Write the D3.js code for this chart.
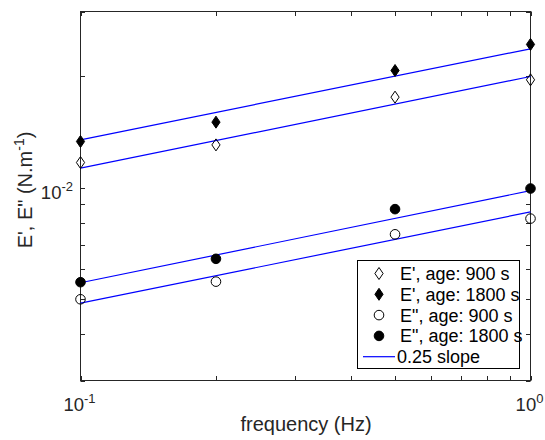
<!DOCTYPE html>
<html>
<head>
<meta charset="utf-8">
<script src="https://cdn.jsdelivr.net/npm/d3@7"></script>
<style>
  body { margin: 0; background: white; }
  text { font-family: 'Liberation Sans', Arial, sans-serif; fill: #262626; }
</style>
</head>
<body>
<div id="chart"></div>
<script>
'use strict';

// Measured frequencies (Hz)
var freqs = [ 0.1, 0.2, 0.5, 1 ];

// Storage modulus E' and loss modulus E'' (N/m), two ageing times
var storage900 = [ 0.01169, 0.01305, 0.01758, 0.01959 ];
var storage1800 = [ 0.01333, 0.01504, 0.02076, 0.02443 ];
var loss900 = [ 0.00498, 0.00556, 0.00747, 0.00824 ];
var loss1800 = [ 0.00554, 0.00641, 0.00874, 0.00994 ];

// 0.25 slope guide lines, value at 0.1 Hz and at 1 Hz
var fitFreqs = [ 0.1, 1 ];
var fitStorage900 = [ 0.01129, 0.0200 ];
var fitStorage1800 = [ 0.01347, 0.02377 ];
var fitLoss900 = [ 0.00486, 0.00859 ];
var fitLoss1800 = [ 0.00552, 0.00981 ];

// Axis ranges and tick values
var xDomain = [ 0.1, 1 ];
var yDomain = [ 0.003, 0.03 ];
var xTicks = [ 0.1, 0.2, 0.3, 0.4, 0.5, 0.6, 0.7, 0.8, 0.9, 1 ];
var yTicks = [ 0.003, 0.004, 0.005, 0.006, 0.007, 0.008, 0.009, 0.01, 0.02, 0.03 ];
var xTickLabels = [ { v: 0.1, exp: '-1' }, { v: 1, exp: '0' } ];
var yTickLabels = [ { v: 0.01, exp: '-2' } ];

var legendLabels = [ 'E\', age: 900 s', 'E\', age: 1800 s', 'E", age: 900 s', 'E", age: 1800 s', '0.25 slope' ];

var width = 545;
var height = 440;
var plot = { left: 80.5, right: 530.5, top: 11.5, bottom: 380.5 };
var axisColor = '#262626';
var tickLen = 4.5;

var svg = d3.select( '#chart' ).append( 'svg' )
  .attr( 'width', width )
  .attr( 'height', height );

var x = d3.scaleLog().domain( xDomain ).range( [ plot.left, plot.right ] );
var y = d3.scaleLog().domain( yDomain ).range( [ plot.bottom, plot.top ] );

// Marker shapes (MATLAB-ish diamond is wider than d3's)
function diamondPath( w, h ) {
  return 'M0,' + ( -h ) + 'L' + w + ',0L0,' + h + 'L' + ( -w ) + ',0Z';
}
var shapes = {
  diamond: diamondPath( 4.1, 6.0 ),
  circle: d3.symbol().type( d3.symbolCircle ).size( Math.PI * 4.8 * 4.8 )()
};

var series = [
  { values: storage900, shape: 'diamond', fill: 'none' },
  { values: storage1800, shape: 'diamond', fill: '#000' },
  { values: loss900, shape: 'circle', fill: 'none' },
  { values: loss1800, shape: 'circle', fill: '#000' }
];
var fits = [ fitStorage900, fitStorage1800, fitLoss900, fitLoss1800 ];

// Plot background and box
svg.append( 'rect' )
  .attr( 'x', plot.left ).attr( 'y', plot.top )
  .attr( 'width', plot.right - plot.left ).attr( 'height', plot.bottom - plot.top )
  .attr( 'fill', 'white' )
  .attr( 'stroke', axisColor )
  .attr( 'stroke-width', 1 );

// Inward ticks on all four sides
var ticks = svg.append( 'g' ).attr( 'class', 'ticks' )
  .attr( 'stroke', axisColor ).attr( 'stroke-width', 1 );

ticks.selectAll( '.xt' )
  .data( xTicks )
  .enter().append( 'path' )
  .attr( 'class', 'xt' )
  .attr( 'd', function( d ) {
    var px = Math.round( x( d ) ) + 0.5;
    return 'M' + px + ',' + plot.bottom + 'v' + ( -tickLen ) +
      'M' + px + ',' + plot.top + 'v' + tickLen;
  } );

ticks.selectAll( '.yt' )
  .data( yTicks )
  .enter().append( 'path' )
  .attr( 'class', 'yt' )
  .attr( 'd', function( d ) {
    var py = Math.round( y( d ) ) + 0.5;
    return 'M' + plot.left + ',' + py + 'h' + tickLen +
      'M' + plot.right + ',' + py + 'h' + ( -tickLen );
  } );

// Tick labels, power-of-ten form
function powerLabel( sel ) {
  sel.text( '10' )
    .append( 'tspan' )
    .attr( 'dy', -8 )
    .style( 'font-size', '13px' )
    .text( function( d ) { return d.exp; } );
}

svg.selectAll( '.xlabel' )
  .data( xTickLabels )
  .enter().append( 'text' )
  .attr( 'class', 'xlabel' )
  .attr( 'x', function( d ) { return x( d.v ) - 1; } )
  .attr( 'y', 411 )
  .attr( 'text-anchor', 'middle' )
  .style( 'font-size', '18.5px' )
  .call( powerLabel );

svg.selectAll( '.ylabel' )
  .data( yTickLabels )
  .enter().append( 'text' )
  .attr( 'class', 'ylabel' )
  .attr( 'x', 73 )
  .attr( 'y', function( d ) { return y( d.v ) + 11; } )
  .attr( 'text-anchor', 'end' )
  .style( 'font-size', '18.5px' )
  .call( powerLabel );

// Axis titles
svg.append( 'text' )
  .attr( 'x', 306 )
  .attr( 'y', 431 )
  .attr( 'text-anchor', 'middle' )
  .style( 'font-size', '20px' )
  .text( 'frequency (Hz)' );

var yTitle = svg.append( 'text' )
  .attr( 'transform', 'translate(32,190) rotate(-90)' )
  .attr( 'text-anchor', 'middle' )
  .style( 'font-size', '20px' );
yTitle.append( 'tspan' ).text( 'E\', E" (N.m' );
yTitle.append( 'tspan' ).attr( 'dy', -8 ).style( 'font-size', '14px' ).text( '-1' );
yTitle.append( 'tspan' ).attr( 'dy', 8 ).text( ')' );

// 0.25 slope guide lines
var line = d3.line()
  .x( function( d, i ) { return x( fitFreqs[ i ] ); } )
  .y( function( d ) { return y( d ); } );

svg.append( 'g' ).attr( 'class', 'fits' )
  .selectAll( 'path' )
  .data( fits )
  .enter().append( 'path' )
  .attr( 'd', line )
  .attr( 'fill', 'none' )
  .attr( 'stroke', '#0000ff' )
  .attr( 'stroke-width', 1.2 );

// Data markers
var groups = svg.append( 'g' ).attr( 'class', 'markers' )
  .selectAll( 'g' )
  .data( series )
  .enter().append( 'g' );

groups.selectAll( 'path' )
  .data( function( s ) {
    return s.values.map( function( v, i ) {
      return { f: freqs[ i ], v: v, shape: s.shape, fill: s.fill };
    } );
  } )
  .enter().append( 'path' )
  .attr( 'transform', function( d ) {
    return 'translate(' + x( d.f ) + ',' + y( d.v ) + ')';
  } )
  .attr( 'd', function( d ) { return shapes[ d.shape ]; } )
  .attr( 'fill', function( d ) { return d.fill; } )
  .attr( 'stroke', '#000' )
  .attr( 'stroke-width', 1 );

// Legend
var legend = svg.append( 'g' ).attr( 'class', 'legend' );
var rowY = function( i ) { return 273.5 + i * 20.8; };

legend.append( 'rect' )
  .attr( 'x', 357.5 ).attr( 'y', 260.5 )
  .attr( 'width', 162 ).attr( 'height', 108 )
  .attr( 'fill', 'white' )
  .attr( 'stroke', '#000' )
  .attr( 'stroke-width', 1 );

legend.selectAll( '.lmark' )
  .data( series )
  .enter().append( 'path' )
  .attr( 'class', 'lmark' )
  .attr( 'transform', function( d, i ) { return 'translate(379,' + rowY( i ) + ')'; } )
  .attr( 'd', function( d ) { return shapes[ d.shape ]; } )
  .attr( 'fill', function( d ) { return d.fill; } )
  .attr( 'stroke', '#000' )
  .attr( 'stroke-width', 1 );

legend.append( 'line' )
  .attr( 'x1', 363 ).attr( 'x2', 395 )
  .attr( 'y1', rowY( 4 ) ).attr( 'y2', rowY( 4 ) )
  .attr( 'stroke', '#0000ff' )
  .attr( 'stroke-width', 1.2 );

legend.selectAll( '.ltext' )
  .data( legendLabels )
  .enter().append( 'text' )
  .attr( 'class', 'ltext' )
  .attr( 'x', function( d, i ) { return i === 4 ? 397 : 400; } )
  .attr( 'y', function( d, i ) { return rowY( i ) + 6.5; } )
  .style( 'font-size', '18px' )
  .style( 'fill', '#000' )
  .text( function( d ) { return d; } );
</script>
</body>
</html>
